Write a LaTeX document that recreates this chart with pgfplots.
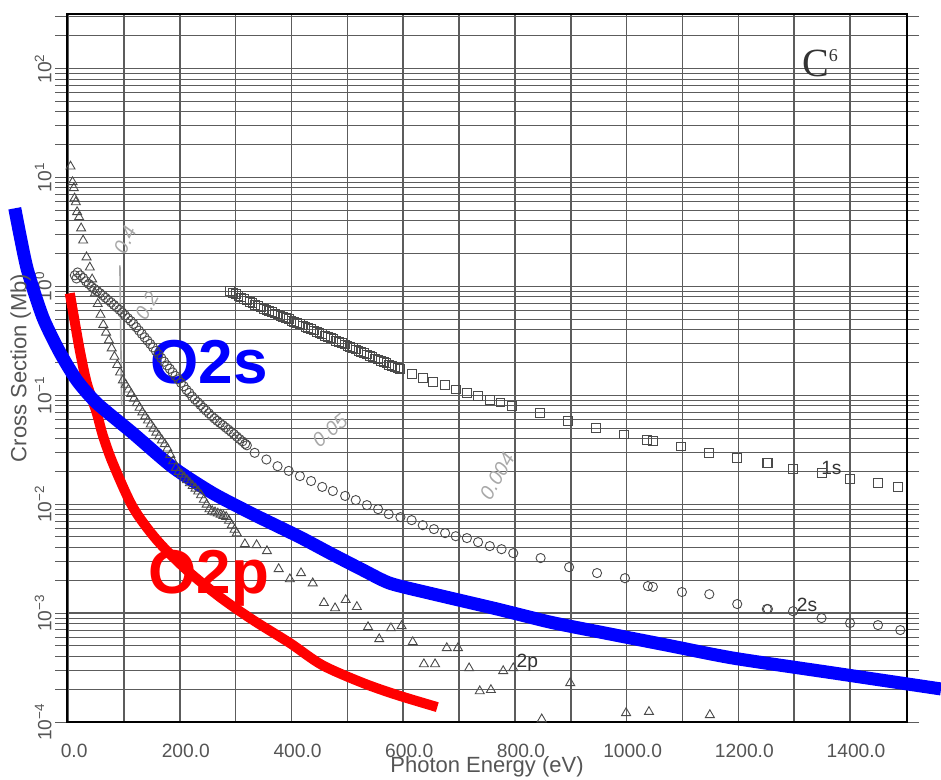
\documentclass[border=0pt]{standalone}
\usepackage{fontspec}
\setmainfont{Liberation Sans}
\newfontfamily\seriffont{Liberation Serif}
\usepackage{pgfplots}
\pgfplotsset{compat=1.18}
\definecolor{txt}{HTML}{555555}
\definecolor{gridc}{HTML}{5C5C5C}
\definecolor{mk}{HTML}{4A4A4A}
\definecolor{pencil}{HTML}{A8A8A8}
\definecolor{oblue}{RGB}{0,0,255}
\definecolor{ored}{RGB}{255,0,0}

\begin{document}
\begin{tikzpicture}
\begin{axis}[name=ax, scale only axis, width=420pt, height=354pt,
  xmin=-2, xmax=1502, ymode=log, ymin=1e-4, ymax=316.2,
  clip=false,
  axis line style={black, line width=1.1pt},
  xtick={0,100,...,1400},
  xticklabels={0.0,,200.0,,400.0,,600.0,,800.0,,1000.0,,1200.0,,1400.0},
  ytick={1e-4,1e-3,1e-2,1e-1,1,10,100},
  yticklabels={10\textsuperscript{−4},10\textsuperscript{−3},10\textsuperscript{−2},10\textsuperscript{−1},10\textsuperscript{0},10\textsuperscript{1},10\textsuperscript{2}},
  minor ytick={2e-4,3e-4,4e-4,5e-4,6e-4,7e-4,8e-4,9e-4,
               2e-3,3e-3,4e-3,5e-3,6e-3,7e-3,8e-3,9e-3,
               2e-2,3e-2,4e-2,5e-2,6e-2,7e-2,8e-2,9e-2,
               0.2,0.3,0.4,0.5,0.6,0.7,0.8,0.9,
               2,3,4,5,6,7,8,9,20,30,40,50,60,70,80,90,200,300},
  xmajorgrids, ymajorgrids, yminorgrids,
  major grid style={gridc, line width=0.6pt},
  minor grid style={gridc, line width=0.45pt},
  x grid style={gridc, line width=0.75pt},
  tick align=outside,
  xtick style={/pgfplots/major tick length=0pt, /pgfplots/minor tick length=0pt},
  ytick style={gridc, line width=0.5pt},
  major tick length=6pt, minor tick length=6pt,
  tick label style={font=\fontsize{9.6}{11}\selectfont, text=txt},
  yticklabel style={rotate=90, anchor=south, inner sep=1.5pt},
  xticklabel style={yshift=-1.5pt, xshift=3pt},
  xlabel={Photon Energy (eV)}, ylabel={Cross Section (Mb)},
  label style={font=\fontsize{11}{13}\selectfont, text=txt},
  xlabel style={at={(axis description cs:0.5,-0.063)}, anchor=center},
  ylabel style={at={(axis description cs:-0.055,0.5)}, anchor=center},
]
% 2p triangles
\addplot[only marks, mark=triangle, mark size=2.6pt, mark options={draw=mk, line width=0.45pt, fill=none}] coordinates {
(4.3,12.6) (7.9,9.06) (10.2,7.98) (11.5,6.42) (13.8,5.93) (16.1,4.81) (19.7,4.32) (23.3,3.41) (26.9,2.64) (33,1.85) (38.9,1.49)
(43,1.16) (48,0.863) (53,0.689) (58,0.549) (63,0.443) (68,0.377) (73,0.320) (78,0.270) (83,0.226) (88,0.190) (93,0.162) (98,0.137)
(103,0.125) (108,0.113) (113,0.103) (118,0.0933) (123,0.0847) (128,0.0769) (133,0.0698) (138,0.0640) (143,0.0587) (148,0.0540)
(153,0.0495) (158,0.0455) (163,0.0420) (168,0.0386) (173,0.0356) (178,0.0325) (183,0.0284) (188,0.0248) (193,0.0216)
(198,0.0198) (203,0.0187) (208,0.0176) (213,0.0166) (218,0.0156) (223,0.0147) (228,0.0139) (233,0.0131) (238,0.0121)
(243,0.0110) (248,0.00993) (253,0.00899) (258,0.00863) (263,0.00843) (268,0.00822) (273,0.00802) (278,0.00783) (283,0.00764)
(288,0.00705) (293,0.00641) (298,0.00583) (302,0.00542)
(316.5,4.30e-3) (337.5,4.21e-3) (356,3.71e-3) (377,2.54e-3) (397,2.05e-3) (417,2.33e-3) (438,1.88e-3) (458,1.24e-3) (478,1.11e-3)
(497,1.32e-3) (517,1.14e-3) (537,7.45e-4) (557,5.77e-4) (578,7.27e-4) (597,7.6e-4) (617,5.42e-4) (637,3.40e-4) (657,3.40e-4)
(678,4.78e-4) (698,4.78e-4) (718,3.12e-4) (737,1.92e-4) (757,1.97e-4) (779,2.94e-4) (797,3.12e-4) (848,1.06e-4) (899,2.28e-4)
(999,1.21e-4) (1040,1.24e-4) (1149,1.16e-4)
};
% 2s circles
\addplot[only marks, mark=o, mark size=2.3pt, mark options={draw=mk, line width=0.45pt}] coordinates {
(12,1.26) (15,1.18) (17,1.34) (22,1.26) (27,1.19) (32,1.11) (37,1.05) (42,0.993) (47,0.948) (52,0.906) (57,0.865)
(62,0.826) (67,0.785) (72,0.746) (77,0.710) (82,0.675) (87,0.641) (92,0.608) (97,0.574) (102,0.541) (107,0.510) (112,0.481)
(117,0.452) (122,0.421) (127,0.392) (132,0.366) (137,0.340) (142,0.317) (147,0.296) (152,0.275) (157,0.255) (162,0.237)
(167,0.219) (172,0.203) (177,0.188) (182,0.175) (187,0.162) (192,0.150) (197,0.140) (202,0.130) (207,0.121) (212,0.112)
(217,0.105) (222,0.0973) (227,0.0916) (232,0.0863) (237,0.0813) (242,0.0767) (247,0.0723) (252,0.0682) (257,0.0643)
(262,0.0611) (267,0.0582) (272,0.0556) (277,0.0530) (282,0.0506) (287,0.0483) (292,0.0461) (297,0.0439) (302,0.0417)
(307,0.0396) (312,0.0377) (317,0.0358) (320,0.0347)
(334,0.0296) (355,0.0257) (375,0.0223) (395,0.0202) (415,0.0181) (435,0.0163) (455,0.0144) (474,0.0132) (496,0.0119)
(515,0.0109) (535,9.8e-3) (555,9.0e-3) (574,8.1e-3) (595,7.6e-3) (615,7.13e-3) (635,6.41e-3) (655,5.90e-3) (675,5.42e-3)
(694,5.08e-3) (714,4.88e-3) (734,4.48e-3) (755,4.12e-3) (776,3.86e-3) (797,3.55e-3) (846,3.20e-3) (897,2.64e-3) (947,2.33e-3)
(997,2.09e-3) (1038,1.77e-3) (1047,1.74e-3) (1099,1.56e-3) (1148,1.49e-3) (1198,1.21e-3) (1251,1.09e-3) (1253,1.09e-3)
(1298,1.04e-3) (1349,9.0e-4) (1400,8.1e-4) (1450,7.76e-4) (1490,6.98e-4)
};
% 1s squares
\addplot[only marks, mark=square, mark size=2.2pt, mark options={draw=mk, line width=0.45pt}] coordinates {
(290,0.906) (295,0.875) (300,0.845) (305,0.815) (310,0.789) (315,0.765) (320,0.743) (325,0.720) (330,0.698) (335,0.678)
(340,0.658) (345,0.640) (350,0.624) (355,0.608) (360,0.593) (365,0.578) (370,0.564) (375,0.551) (380,0.537) (385,0.524)
(390,0.511) (395,0.498) (400,0.484) (405,0.472) (410,0.460) (415,0.448) (420,0.437) (425,0.425) (430,0.414) (435,0.403)
(440,0.393) (445,0.383) (450,0.372) (455,0.363) (460,0.353) (465,0.344) (470,0.335) (475,0.326) (480,0.317) (485,0.309)
(490,0.301) (495,0.292) (500,0.284) (505,0.277) (510,0.270) (515,0.263) (520,0.256) (525,0.249) (530,0.243) (535,0.237)
(540,0.230) (545,0.224) (550,0.218) (555,0.213) (560,0.207) (565,0.202) (570,0.197) (575,0.191) (580,0.187) (585,0.182)
(590,0.177) (594,0.173)
(615,0.156) (635,0.145) (653,0.132) (675,0.124) (694,0.113) (714,0.105) (734,0.0986) (755,0.0899) (774,0.0857) (794,0.0798)
(845,0.0684) (895,0.0581) (945,0.0498) (995,0.0437) (1036,0.0386) (1047,0.0382) (1097,0.0338) (1148,0.0296) (1198,0.0264)
(1251,0.0238) (1253,0.0238) (1298,0.0209) (1349,0.0192) (1400,0.0169) (1450,0.0156) (1486,0.0144)
};
% O2p red
\addplot[ored, line width=5pt, smooth, tension=0.5] coordinates {
(3.0,0.863) (12,0.468) (20.9,0.259) (33.5,0.129) (51.4,0.0684) (62,0.0430) (80,0.0238) (116,9.38e-3) (159,4.68e-3)
(212.6,2.48e-3) (272,1.40e-3) (331,8.63e-4) (397,5.31e-4) (455,3.33e-4) (528,2.28e-4) (589,1.77e-4) (661,1.37e-4)
};
% O2s blue
\addplot[oblue, line width=6.5pt, smooth, tension=0.4] coordinates {
(-95.5,5.2) (-74,1.49) (-45.3,0.520) (-14.9,0.248) (15.6,0.137) (51.4,0.0845) (116,0.0448) (187.5,0.0218) (259,0.0126)
(331,8.09e-3) (415,4.98e-3) (469,3.55e-3) (528,2.48e-3) (576,1.88e-3) (648,1.52e-3) (768,1.09e-3) (863,8.26e-4)
(952,6.70e-4) (1072,5.08e-4) (1191,3.86e-4) (1370,2.82e-4) (1563,2.01e-4)
};
% labels
\node[oblue, font=\fontsize{31}{31}\selectfont\bfseries] at (rel axis cs:0.169,0.508) {O2s};
\node[ored, font=\fontsize{31}{31}\selectfont\bfseries] at (rel axis cs:0.169,0.203) {O2p};
\node[text=black!80, font=\seriffont\fontsize{20}{20}\selectfont] at (rel axis cs:0.897,0.93) {C\textsuperscript{\fontsize{9}{9}\selectfont 6}};
\node[text=black!80, font=\fontsize{9.6}{11}\selectfont] at (rel axis cs:0.910,0.359) {1s};
\node[text=black!80, font=\fontsize{9.6}{11}\selectfont] at (rel axis cs:0.881,0.165) {2s};
\node[text=black!80, font=\fontsize{9.6}{11}\selectfont] at (rel axis cs:0.548,0.083) {2p};
% pencil annotations
\node[text=pencil, rotate=65, inner sep=0pt, font=\itshape\fontsize{10}{10}\selectfont] at (rel axis cs:0.069,0.681) {0.4};
\node[text=pencil, rotate=60, inner sep=0pt, font=\itshape\fontsize{10}{10}\selectfont] at (rel axis cs:0.095,0.588) {0.2};
\node[text=pencil, rotate=40, inner sep=0pt, font=\itshape\fontsize{10}{10}\selectfont] at (rel axis cs:0.313,0.412) {0.05};
\node[text=pencil, rotate=60, inner sep=0pt, font=\itshape\fontsize{10}{10}\selectfont] at (rel axis cs:0.512,0.347) {0.004};
\draw[pencil, line width=0.8pt] (rel axis cs:0.063,0.645) -- (rel axis cs:0.065,0.448);
\end{axis}
\pgfresetboundingbox
\path ([shift={(-33.5pt,-29pt)}]ax.south west) rectangle ([shift={(17pt,7pt)}]ax.north east);
\end{tikzpicture}
\end{document}
